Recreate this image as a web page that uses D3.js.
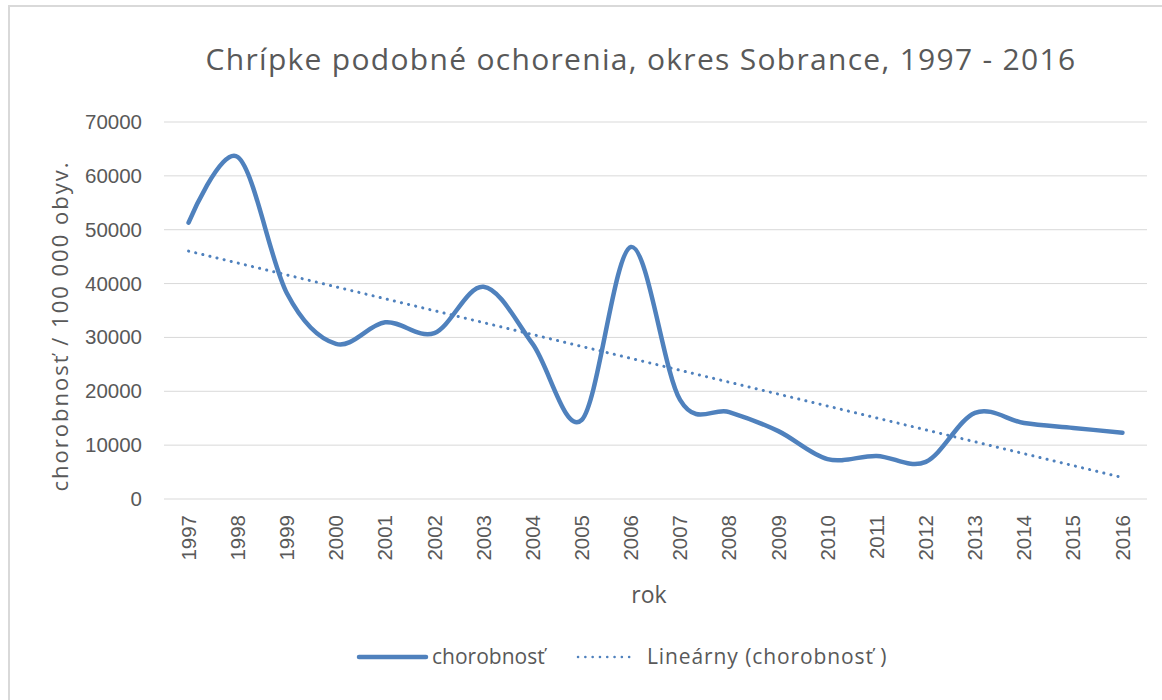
<!DOCTYPE html>
<html>
<head>
<meta charset="utf-8">
<script src="https://cdn.jsdelivr.net/npm/d3@7"></script>
<style>
  body { margin: 0; background: #fff; }
  text { fill: #595959; }
</style>
</head>
<body>
<div id="chart"></div>
<script>
// data
let years = ["1997","1998","1999","2000","2001","2002","2003","2004","2005","2006",
             "2007","2008","2009","2010","2011","2012","2013","2014","2015","2016"];
let chorobnost = [51300, 63500, 38200, 28800, 32800, 30800, 39400, 28800, 14700, 46800,
                  18400, 16150, 12600, 7400, 8000, 6900, 16000, 14100, 13200, 12300];
let yTicks = [0, 10000, 20000, 30000, 40000, 50000, 60000, 70000];

let svgWidth = 1162;
let svgHeight = 700;
let blue = "#4f81bd";

let svg = d3.select("#chart")
  .append("svg")
  .attr("width", svgWidth)
  .attr("height", svgHeight);

// outer frame (left + top edges visible)
svg.append("path")
  .attr("d", "M9,700 V6 H1162")
  .attr("fill", "none")
  .attr("stroke", "#d9d9d9")
  .attr("stroke-width", 2);

// plot area
let x = d3.scaleBand().domain(years).range([164, 1147]);
let y = d3.scaleLinear().domain([0, 70000]).range([499, 122]);
let cx = d => x(d) + x.bandwidth() / 2;

// gridlines
svg.append("g").selectAll("line")
  .data(yTicks)
  .enter()
  .append("line")
  .attr("x1", 164)
  .attr("x2", 1147)
  .attr("y1", d => y(d))
  .attr("y2", d => y(d))
  .attr("stroke", "#d9d9d9")
  .attr("stroke-width", 1);

// y axis labels
let yAxis = svg.append("g")
  .attr("transform", "translate(150,0)")
  .call(d3.axisLeft(y).tickValues(yTicks).tickFormat(d3.format("d")).tickSize(0).tickPadding(8));
yAxis.select(".domain").remove();
yAxis.selectAll("text")
  .attr("font-family", "Liberation Sans, Arial, sans-serif")
  .attr("font-size", 20.5)
  .attr("fill", "#595959");

// x axis labels, rotated
let xAxis = svg.append("g")
  .attr("transform", "translate(0,499)")
  .call(d3.axisBottom(x).tickSize(0));
xAxis.select(".domain").remove();
xAxis.selectAll("text")
  .attr("font-family", "Liberation Sans, Arial, sans-serif")
  .attr("font-size", 20.5)
  .attr("fill", "#595959")
  .attr("transform", "rotate(-90)")
  .attr("text-anchor", "end")
  .attr("x", -16)
  .attr("y", 0)
  .attr("dy", "0.35em");

// linear trendline (least squares over the series)
let n = chorobnost.length;
let mx = (n - 1) / 2;
let my = d3.mean(chorobnost);
let sxy = d3.sum(chorobnost, (v, i) => (i - mx) * (v - my));
let sxx = d3.sum(chorobnost, (v, i) => (i - mx) * (i - mx));
let slope = sxy / sxx;
let icpt = my - slope * mx;
let trend = [0, n - 1].map(i => ({ yr: years[i], v: icpt + slope * i }));

svg.append("path")
  .datum(trend)
  .attr("d", d3.line().x(d => cx(d.yr)).y(d => y(d.v)))
  .attr("fill", "none")
  .attr("stroke", blue)
  .attr("stroke-width", 3)
  .attr("stroke-linecap", "round")
  .attr("stroke-dasharray", "0.1 7.2");

// main smoothed line
let line = d3.line()
  .x((d, i) => cx(years[i]))
  .y(d => y(d))
  .curve(d3.curveCardinal.tension(0));

svg.append("path")
  .datum(chorobnost)
  .attr("d", line)
  .attr("fill", "none")
  .attr("stroke", blue)
  .attr("stroke-width", 4.5)
  .attr("stroke-linecap", "round")
  .attr("stroke-linejoin", "round");

// title
svg.append("text")
  .attr("x", 641)
  .attr("y", 70)
  .attr("text-anchor", "middle")
  .attr("font-family", "Open Sans, sans-serif")
  .attr("font-size", 30)
  .attr("letter-spacing", 1.3)
  .attr("fill", "#595959")
  .text("Chrípke podobné ochorenia, okres Sobrance, 1997 - 2016");

// axis titles
svg.append("text")
  .attr("transform", "translate(68,326) rotate(-90)")
  .attr("text-anchor", "middle")
  .attr("font-family", "Open Sans, sans-serif")
  .attr("font-size", 22)
  .attr("letter-spacing", 2)
  .attr("fill", "#595959")
  .text("chorobnosť / 100 000 obyv.");

svg.append("text")
  .attr("x", 649)
  .attr("y", 603)
  .attr("text-anchor", "middle")
  .attr("font-family", "Open Sans, sans-serif")
  .attr("font-size", 23)
  .attr("fill", "#595959")
  .text("rok");

// legend
let legend = svg.append("g");
legend.append("line")
  .attr("x1", 359).attr("x2", 426)
  .attr("y1", 657).attr("y2", 657)
  .attr("stroke", blue)
  .attr("stroke-width", 4.5)
  .attr("stroke-linecap", "round");
legend.append("text")
  .attr("x", 432).attr("y", 664)
  .attr("font-family", "Open Sans, sans-serif")
  .attr("font-size", 21)
  .attr("fill", "#595959")
  .text("chorobnosť");
legend.append("line")
  .attr("x1", 578).attr("x2", 636)
  .attr("y1", 657).attr("y2", 657)
  .attr("stroke", blue)
  .attr("stroke-width", 2.5)
  .attr("stroke-linecap", "round")
  .attr("stroke-dasharray", "0.1 7.2");
legend.append("text")
  .attr("x", 647).attr("y", 664)
  .attr("font-family", "Open Sans, sans-serif")
  .attr("font-size", 21)
  .attr("letter-spacing", 0.9)
  .attr("fill", "#595959")
  .text("Lineárny (chorobnosť )");
</script>
</body>
</html>
